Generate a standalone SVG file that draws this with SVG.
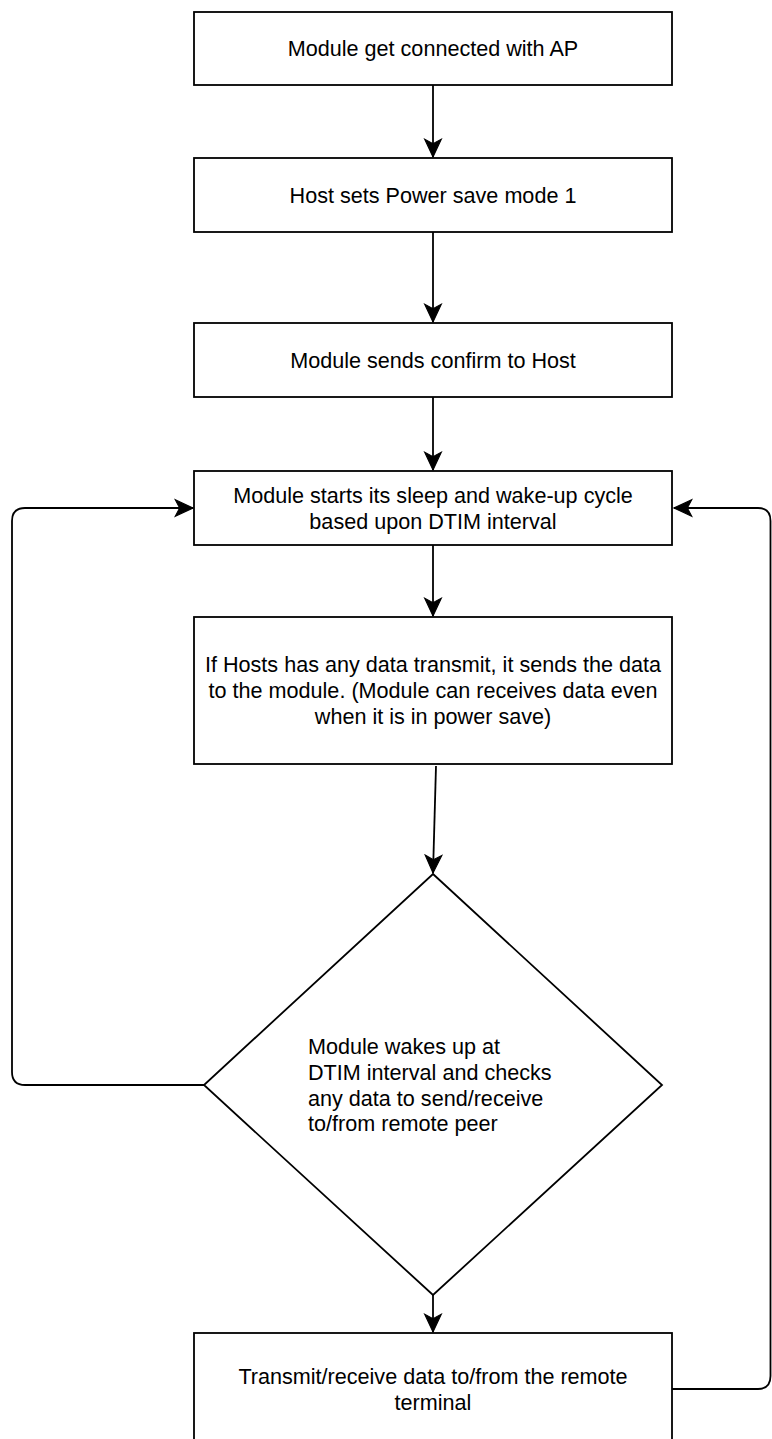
<svg xmlns="http://www.w3.org/2000/svg" width="772" height="1439" viewBox="0 0 772 1439">
<style>
.box{fill:#fff;stroke:#000;stroke-width:1.8}
.t{font-family:"Liberation Sans",Arial,Helvetica,sans-serif;font-size:21.6px;fill:#000}
.c{text-anchor:middle}
.edge{fill:none;stroke:#000;stroke-width:1.8}
</style>
<defs>
<marker id="arr" markerUnits="userSpaceOnUse" markerWidth="20" markerHeight="20" viewBox="-17 -8 18 16" refX="0" refY="0" orient="auto">
<path d="M0,0 L-16,-7.5 L-12,0 L-16,7.5 Z" fill="#000" stroke="#000" stroke-width="1"/>
</marker>
</defs>
<rect width="772" height="1439" fill="#fff"/>
<g id="connectors">
<path class="edge" d="M433,85 L433,157" marker-end="url(#arr)"/>
<path class="edge" d="M433,232 L433,322" marker-end="url(#arr)"/>
<path class="edge" d="M433,397 L433,470" marker-end="url(#arr)"/>
<path class="edge" d="M433,545 L433,616" marker-end="url(#arr)"/>
<path class="edge" d="M436,766 L433,873" marker-end="url(#arr)"/>
<path class="edge" d="M433,1295 L433,1332" marker-end="url(#arr)"/>
<path class="edge" d="M204,1085 L25,1085 Q12,1085 12,1072 L12,521 Q12,508 25,508 L193,508" marker-end="url(#arr)"/>
<path class="edge" d="M672,1389 L758,1389 Q770.5,1389 770.5,1376 L770.5,521 Q770.5,508 758,508 L674,508" marker-end="url(#arr)"/>
</g>
<g id="n1">
<rect class="box" x="194" y="12" width="478" height="73"/>
<text class="t c" x="433" y="56">Module get connected with AP</text>
</g>
<g id="n2">
<rect class="box" x="194" y="158" width="478" height="74"/>
<text class="t c" x="433" y="202.6">Host sets Power save mode 1</text>
</g>
<g id="n3">
<rect class="box" x="194" y="323" width="478" height="74"/>
<text class="t c" x="433" y="367.6">Module sends confirm to Host</text>
</g>
<g id="n4">
<rect class="box" x="194" y="471" width="478" height="74"/>
<text class="t c" x="433" y="502.7">Module starts its sleep and wake-up cycle</text>
<text class="t c" x="433" y="528.6">based upon DTIM interval</text>
</g>
<g id="n5">
<rect class="box" x="194" y="617" width="478" height="147"/>
<text class="t c" x="433" y="672.2">If Hosts has any data transmit, it sends the data</text>
<text class="t c" x="433" y="698.1">to the module. (Module can receives data even</text>
<text class="t c" x="433" y="724">when it is in power save)</text>
</g>
<g id="n6">
<polygon class="box" points="433,874 662,1085 433,1295 204,1085"/>
<text class="t" x="308" y="1053.7">Module wakes up at</text>
<text class="t" x="308" y="1079.6">DTIM interval and checks</text>
<text class="t" x="308" y="1105.5">any data to send/receive</text>
<text class="t" x="308" y="1131.4">to/from remote peer</text>
</g>
<g id="n7">
<rect class="box" x="194" y="1333" width="478" height="112"/>
<text class="t c" x="433" y="1383.7">Transmit/receive data to/from the remote</text>
<text class="t c" x="433" y="1409.6">terminal</text>
</g>
</svg>
